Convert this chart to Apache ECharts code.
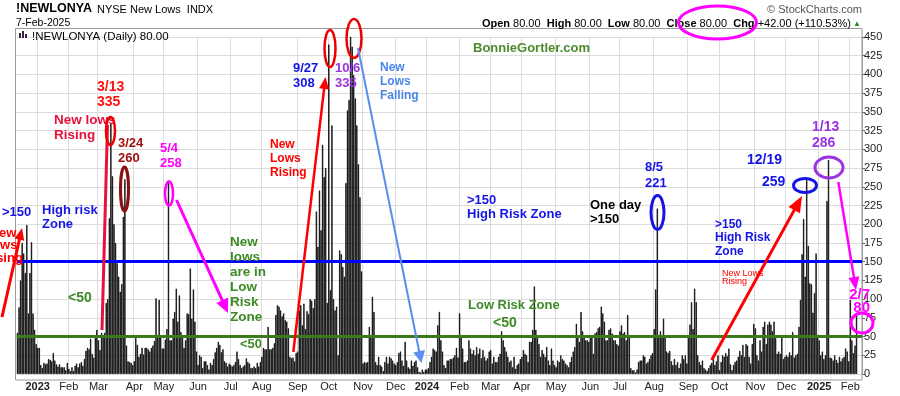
<!DOCTYPE html>
<html><head><meta charset="utf-8">
<script src="https://cdn.jsdelivr.net/npm/echarts@6/dist/echarts.min.js"></script>
<style>html,body{margin:0;padding:0;background:#fff}#c{width:900px;height:396px}</style>
</head><body><div id="c"></div>
<script>
// ---- data: NYSE new lows, daily, one array per month ----
const dec2022 = [55, 89, 125, 175, 161, 135, 199, 81, 135, 176, 81, 59, 40];
const jan2023 = [35, 35, 12, 8, 15, 13, 14, 20, 19, 17, 28, 18, 13, 10, 13, 9, 9, 9, 5, 15];
const feb2023 = [7, 4, 9, 4, 11, 14, 9, 14, 16, 11, 20, 31, 35, 33, 47, 27, 22, 48, 59];
const mar2023 = [45, 32, 55, 52, 55, 95, 100, 208, 335, 264, 200, 175, 148, 130, 110, 120, 210, 260, 38, 17, 16, 15, 12];
const apr2023 = [17, 48, 39, 23, 27, 35, 26, 35, 35, 33, 30, 35, 38, 44, 101, 52, 99, 52, 34];
const may2023 = [34, 46, 60, 258, 45, 45, 74, 83, 114, 70, 105, 56, 52, 35, 45, 81, 80, 141, 74, 113, 70, 30];
const jun2023 = [12, 25, 23, 8, 17, 17, 12, 6, 15, 12, 20, 29, 35, 43, 39, 29, 33, 17, 15, 10, 14];
const jul2023 = [12, 10, 12, 16, 30, 20, 12, 8, 10, 12, 21, 16, 14, 8, 8, 10, 8, 15, 10, 16];
const aug2023 = [23, 35, 33, 33, 63, 33, 33, 35, 41, 79, 92, 90, 85, 77, 81, 72, 70, 61, 23, 21, 22, 17, 28];
const sep2023 = [30, 85, 92, 65, 94, 60, 84, 80, 100, 98, 88, 100, 217, 170, 245, 192, 306, 263, 275, 95];
const oct2023 = [440, 112, 332, 100, 85, 90, 25, 165, 160, 143, 130, 255, 352, 366, 452, 437, 399, 368, 332, 280, 236, 137];
const nov2023 = [14, 16, 15, 16, 63, 50, 103, 83, 16, 12, 23, 12, 10, 4, 16, 23, 14, 23, 21, 18, 14];
const dec2023 = [12, 16, 28, 30, 18, 11, 43, 18, 9, 7, 18, 11, 16, 18, 9, 3, 2, 6, 3, 6];
const jan2024 = [6, 8, 16, 23, 34, 32, 30, 65, 83, 45, 30, 12, 8, 18, 18, 20, 20, 22, 25, 35, 22];
const feb2024 = [81, 50, 34, 16, 16, 18, 45, 34, 27, 32, 25, 36, 27, 34, 21, 32, 23, 18, 21, 30];
const mar2024 = [32, 14, 23, 16, 16, 23, 27, 57, 45, 36, 30, 23, 16, 18, 9, 23, 7, 12, 14, 20];
const apr2024 = [23, 32, 27, 25, 16, 43, 43, 59, 117, 59, 50, 40, 23, 32, 27, 23, 36, 18, 12, 34, 18, 12];
const may2024 = [9, 18, 16, 25, 20, 18, 14, 12, 9, 16, 23, 30, 36, 67, 50, 43, 83, 57, 50, 45, 45, 43];
const jun2024 = [50, 52, 27, 54, 56, 61, 63, 90, 81, 70, 45, 45, 59, 61, 54, 45, 45, 40, 38];
const jul2024 = [57, 65, 54, 56, 45, 79, 52, 8, 5, 5, 2, 6, 16, 18, 18, 25, 23, 14, 16, 20, 25, 28];
const aug2024 = [60, 113, 221, 52, 57, 52, 74, 52, 30, 28, 31, 17, 12, 20, 12, 16, 8, 14, 25, 20, 25, 14];
const sep2024 = [52, 66, 96, 60, 114, 96, 25, 16, 12, 18, 8, 6, 4, 8, 12, 15, 20, 12, 17, 25];
const oct2024 = [5, 16, 25, 23, 28, 24, 34, 13, 5, 12, 16, 18, 23, 31, 25, 39, 23, 40, 38, 23, 14, 40, 67];
const nov2024 = [61, 25, 18, 45, 30, 63, 70, 40, 66, 70, 66, 57, 70, 48, 27, 30, 27, 52, 20, 23];
const dec2024 = [25, 23, 29, 25, 56, 22, 25, 27, 63, 99, 160, 207, 130, 259, 171, 121, 120, 82, 108, 161, 52];
const jan2025 = [45, 25, 30, 20, 25, 231, 286, 22, 21, 18, 25, 19, 15, 23, 17, 21, 23, 34, 30, 17];
const feb2025 = [99, 45, 28, 38, 80];

const firstDay = '2022-12-13';
const lastDay = '2025-02-07';
const holidays = ['2022-12-26','2023-01-02','2023-01-16','2023-02-20','2023-04-07','2023-05-29','2023-06-19',
  '2023-07-04','2023-09-04','2023-11-23','2023-12-25','2024-01-01','2024-01-15','2024-02-19','2024-03-29',
  '2024-05-27','2024-06-19','2024-07-04','2024-09-02','2024-11-28','2024-12-25','2025-01-01','2025-01-09','2025-01-20'];
const yTicks = [0, 450, 25];
const monthNames = ['Jan','Feb','Mar','Apr','May','Jun','Jul','Aug','Sep','Oct','Nov','Dec'];

// ---- build categories (trading days) ----
const dates = [];
(function(){
  const hs = new Set(holidays);
  let d = new Date(firstDay + 'T00:00:00Z');
  const end = new Date(lastDay + 'T00:00:00Z');
  while (d <= end) {
    const wd = d.getUTCDay();
    const s = d.toISOString().slice(0,10);
    if (wd !== 0 && wd !== 6 && !hs.has(s)) dates.push(s);
    d = new Date(d.getTime() + 86400000);
  }
})();
const values = [].concat(dec2022, jan2023, feb2023, mar2023, apr2023, may2023, jun2023, jul2023, aug2023,
  sep2023, oct2023, nov2023, dec2023, jan2024, feb2024, mar2024, apr2024, may2024, jun2024, jul2024,
  aug2024, sep2024, oct2024, nov2024, dec2024, jan2025, feb2025);
if (values.length !== dates.length) console.warn('length mismatch', values.length, dates.length);
const nReal = dates.length;
const cats = dates.concat(['', '', '']);
const seriesData = values.concat([null, null, null]);

function isMonthStart(i) {
  if (i <= 0 || i >= nReal) return false;
  return cats[i].slice(0,7) !== cats[i-1].slice(0,7);
}

// ---- annotation helpers ----
const FF = '"Liberation Sans", Arial, sans-serif';
const BLUE = '#1414e6', GREEN = '#3d8a26', RED = '#ff0000', MAG = '#ff00ff', PURP = '#9a32e0';
function T(text, x, capTop, size, color, opt) {
  opt = opt || {};
  const L = opt.lh || Math.round(size * 1.12);
  const y = capTop - (L / 2 - 0.38 * size);
  return { type: 'text', z: 100, silent: true, style: {
    text: text, x: x, y: y, fill: color, fontSize: size, fontFamily: FF,
    fontWeight: opt.bold === false ? 'normal' : 'bold', lineHeight: L,
    textAlign: opt.align || 'left', align: opt.align || 'left',
    textVerticalAlign: 'top', verticalAlign: 'top', rich: opt.rich
  }};
}
function E(cx, cy, rx, ry, color, w) {
  return { type: 'ellipse', z: 100, silent: true, shape: { cx: cx, cy: cy, rx: rx, ry: ry },
    style: { fill: 'none', stroke: color, lineWidth: w } };
}
function A(x1, y1, x2, y2, color, w, hl, hw) {
  const dx = x2 - x1, dy = y2 - y1, len = Math.hypot(dx, dy), ux = dx / len, uy = dy / len;
  const bx = x2 - ux * hl, by = y2 - uy * hl;
  return [
    { type: 'line', z: 100, silent: true, shape: { x1: x1, y1: y1, x2: bx + ux, y2: by + uy }, style: { stroke: color, lineWidth: w } },
    { type: 'polygon', z: 100, silent: true, shape: { points: [[x2, y2], [bx - uy * hw / 2, by + ux * hw / 2], [bx + uy * hw / 2, by - ux * hw / 2]] }, style: { fill: color } }
  ];
}
function Ln(x1, y1, x2, y2, color, w) {
  return { type: 'line', z: 100, silent: true, shape: { x1: x1, y1: y1, x2: x2, y2: y2 }, style: { stroke: color, lineWidth: w } };
}

const graphics = [
  { type: 'rect', z: 1, silent: true, shape: { x: 15.5, y: 28.5, width: 846.5, height: 351.5 }, style: { fill: 'none', stroke: '#9a9a9a', lineWidth: 1 } },
  T('!NEWLONYA', 16, 4, 12.5, '#000'),
  T('NYSE New Lows  INDX', 97, 6, 11, '#000', { bold: false }),
  T('7-Feb-2025', 16, 19, 10.5, '#000', { bold: false }),
  T('\u00A9 StockCharts.com', 862, 6, 11, '#555', { bold: false, align: 'right' }),
  T('{b|Open} 80.00  {b|High} 80.00  {b|Low} 80.00  {b|Close} 80.00  {b|Chg} +42.00 (+110.53%)', 851, 20, 11, '#000',
    { bold: false, align: 'right', rich: { b: { fontWeight: 'bold', fontSize: 11, fontFamily: FF, fill: '#000' } } }),
  T('\u25B2', 853, 21, 8, '#2a8a2a', { bold: false }),
  { type: 'rect', z: 100, shape: { x: 19, y: 33, width: 2, height: 5 }, style: { fill: '#3a2040' } },
  { type: 'rect', z: 100, shape: { x: 22, y: 31, width: 2, height: 7 }, style: { fill: '#3a2040' } },
  { type: 'rect', z: 100, shape: { x: 25, y: 34, width: 2, height: 4 }, style: { fill: '#3a2040' } },
  T('!NEWLONYA (Daily) 80.00', 32, 32, 11.5, '#000', { bold: false }),
  T('BonnieGortler.com', 473, 43, 13, '#4a8b2c'),
  E(717.5, 22.5, 39, 16.5, MAG, 3),

  // left region
  T('>150', 2, 207, 13, BLUE),
  T('High risk\nZone', 42, 205, 13, BLUE, { lh: 14.5 }),
  T('New\nlows\nRising', 3, 228, 13, RED, { lh: 12.5, align: 'center' }),
  ...A(2, 317, 22, 228, RED, 3, 12, 10),
  T('<50', 68, 293, 14, GREEN),

  // March 2023
  T('3/13\n335', 97, 82, 14, '#ff1010', { lh: 15 }),
  T('New lows\nRising', 54, 115, 13.5, '#e8103c', { lh: 15 }),
  Ln(102, 330, 107.5, 125, '#e8103c', 3),
  E(110.5, 131, 4.5, 14, '#ee0000', 2.5),
  T('3/24\n260', 118, 138, 13, '#a01010', { lh: 15 }),
  E(124.5, 189, 4, 22, '#8b1010', 3),

  // May 2023
  T('5/4\n258', 160, 143, 13, MAG, { lh: 15 }),
  E(169, 193.5, 4, 12, MAG, 2.5),
  ...A(176.5, 200, 228, 313, MAG, 3, 14, 13),
  T('New\nlows\nare in\nLow\nRisk\nZone', 230, 237, 13.5, GREEN, { lh: 15 }),
  T('<50', 240, 339, 13, GREEN),

  // Sep-Oct 2023
  T('New\nLows\nRising', 270, 140, 12, RED, { lh: 14 }),
  ...A(293.3, 352, 325.5, 77, RED, 2.5, 12, 10),
  E(330, 48.5, 5.5, 18.5, '#ee0000', 2.5),
  E(354, 38.5, 7.5, 19.5, '#ee0000', 2.5),
  T('9/27\n308', 293, 63, 13, BLUE, { lh: 15 }),
  T('10/6\n335', 335, 63, 13, PURP, { lh: 15 }),
  T('New\nLows\nFalling', 380, 63, 12, '#4a86e8', { lh: 14 }),
  ...A(358, 48, 421.5, 363, '#5a8ef0', 2, 12, 12),

  // 2024 middle
  T('>150\nHigh Risk Zone', 467, 195, 13, BLUE, { lh: 14 }),
  T('Low Risk Zone', 468, 300, 13, GREEN),
  T('<50', 493, 318, 14, GREEN),
  T('One day\n>150', 590, 200, 13, '#000', { lh: 14 }),
  T('8/5\n221', 645, 162, 13, BLUE, { lh: 16 }),
  E(657.5, 212.5, 6.5, 17, BLUE, 3),

  // late 2024 / 2025
  T('>150\nHigh Risk\nZone', 715, 220, 12, BLUE, { lh: 13.5 }),
  T('New Lows\nRising', 722, 270, 9, RED, { bold: false, lh: 8.5 }),
  ...A(711.7, 360, 802, 196, RED, 3, 16, 13),
  T('12/19', 747, 155, 14, BLUE),
  T('259', 762, 177, 14, BLUE),
  E(805, 185.5, 11.5, 7, BLUE, 3),
  T('1/13\n286', 812, 122, 14, PURP, { lh: 16 }),
  E(829, 167.5, 14, 10.5, PURP, 3),
  ...A(838.3, 182, 856, 290, MAG, 2.5, 13, 11),
  T('2/7\n80', 870, 289, 15, MAG, { lh: 13, align: 'right' }),
  E(862, 323, 11, 10, MAG, 3)
];

const chart = echarts.init(document.getElementById('c'), null, { renderer: 'canvas' });
chart.setOption({
  animation: false,
  backgroundColor: '#fff',
  textStyle: { fontFamily: FF },
  grid: { left: 16.7, right: 38, top: 37, bottom: 22, containLabel: false, outerBoundsMode: 'none' },
  xAxis: {
    type: 'category', data: cats, boundaryGap: true,
    axisLine: { show: false }, axisTick: { show: false },
    axisLabel: {
      interval: function (i) { return isMonthStart(i) || i === 13; },
      margin: 7, fontSize: 11, color: '#222', fontFamily: FF, hideOverlap: false,
      formatter: function (v) {
        if (!v) return '';
        const m = +v.slice(5, 7);
        return m === 1 ? '{y|' + v.slice(0, 4) + '}' : monthNames[m - 1];
      },
      rich: { y: { fontWeight: 'bold', fontSize: 11, color: '#222', fontFamily: FF } }
    },
    splitLine: { show: true, interval: function (i) { return isMonthStart(i); }, lineStyle: { color: '#dcdcdc', width: 1 } }
  },
  yAxis: {
    type: 'value', position: 'right', min: yTicks[0], max: yTicks[1], interval: yTicks[2],
    axisLine: { show: true, lineStyle: { color: '#9a9a9a' } },
    axisTick: { show: true, length: 3, lineStyle: { color: '#666' } },
    axisLabel: { fontSize: 11, color: '#222', margin: 2, fontFamily: FF },
    splitLine: { show: true, lineStyle: { color: '#dcdcdc', width: 1 } }
  },
  series: [{
    type: 'bar', data: seriesData, barCategoryGap: '20%',
    itemStyle: { color: '#000', borderColor: '#000', borderWidth: 0.6 }, silent: true,
    markLine: {
      silent: true, symbol: ['none', 'none'], label: { show: false },
      data: [
        { yAxis: 150, lineStyle: { color: '#0000ff', width: 3, type: 'solid' } },
        { yAxis: 50, lineStyle: { color: '#3a7a1e', width: 3, type: 'solid' } }
      ]
    }
  }],
  graphic: graphics
});
</script></body></html>
